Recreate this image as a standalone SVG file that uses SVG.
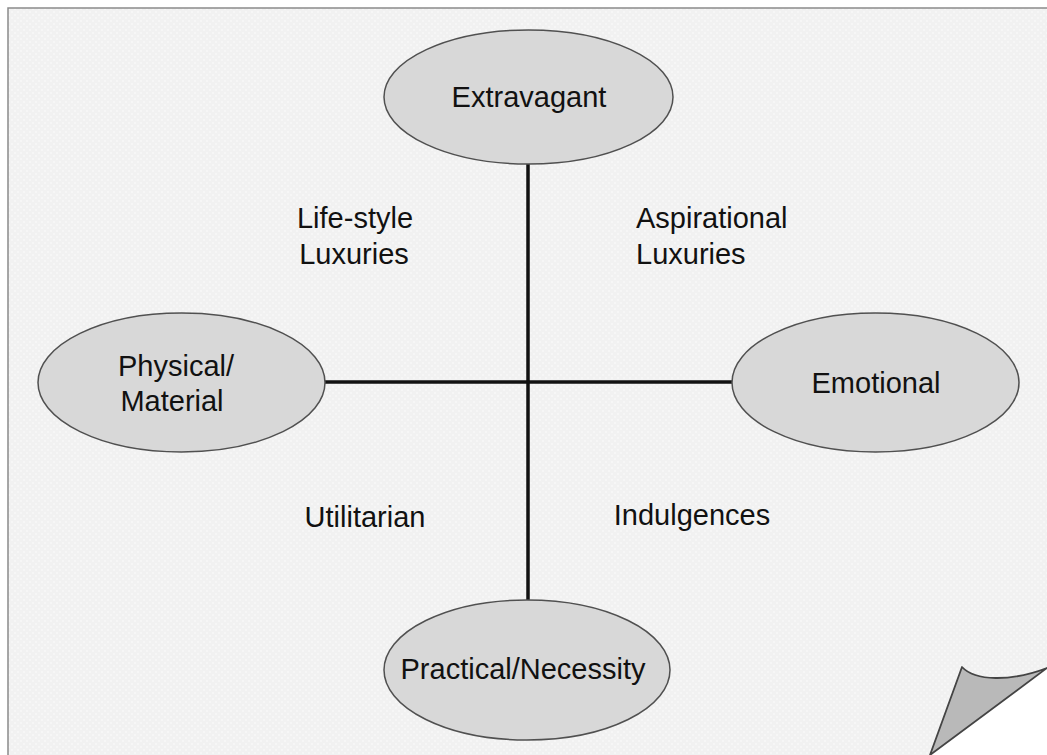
<svg xmlns="http://www.w3.org/2000/svg" width="1047" height="755" viewBox="0 0 1047 755">
  <defs>
    <pattern id="paperTexture" width="6" height="6" patternUnits="userSpaceOnUse">
      <rect width="6" height="6" fill="#f1f1f1"/>
      <circle cx="3" cy="3" r="1.2" fill="#f7f7f7"/>
      <circle cx="0" cy="0" r="1.2" fill="#f7f7f7"/>
      <circle cx="6" cy="6" r="1.2" fill="#f7f7f7"/>
      <circle cx="0" cy="6" r="1.2" fill="#f7f7f7"/>
      <circle cx="6" cy="0" r="1.2" fill="#f7f7f7"/>
    </pattern>
    <style>
      .node { fill: #d8d8d8; stroke: #505050; stroke-width: 1.5; }
      .label { font-family: "Liberation Sans", Arial, sans-serif; font-size: 29px; fill: #111; }
      .axis { stroke: #111; stroke-width: 3.5; fill: none; }
    </style>
  </defs>

  <!-- background and page sheet with a curled corner -->
  <rect width="1047" height="755" fill="#ffffff"/>
  <path d="M8,8 H1047 V668 L930,755 H8 Z" fill="url(#paperTexture)"/>
  <path d="M8,755 V8 H1047" fill="none" stroke="#8a8a8a" stroke-width="1.5"/>
  <path d="M930,755 L962,667 C975,681 1010,682 1047,668 Z" fill="#b9b9b9" stroke="#444" stroke-width="1.8" stroke-linejoin="round"/>

  <!-- axes -->
  <g id="connectors">
    <line class="axis" x1="528" y1="163" x2="528" y2="600"/>
    <line class="axis" x1="325" y1="382" x2="732" y2="382"/>
  </g>

  <g id="node-extravagant">
    <ellipse class="node" cx="528.5" cy="97" rx="144.5" ry="67"/>
    <text class="label" x="529" y="107" text-anchor="middle">Extravagant</text>
  </g>

  <g id="node-physical">
    <ellipse class="node" cx="181.5" cy="382.5" rx="143.5" ry="69.5"/>
    <text class="label" x="176" y="376" text-anchor="middle">Physical/</text>
    <text class="label" x="172" y="411" text-anchor="middle">Material</text>
  </g>

  <g id="node-emotional">
    <ellipse class="node" cx="875.5" cy="382.5" rx="143.5" ry="69.5"/>
    <text class="label" x="876" y="393" text-anchor="middle">Emotional</text>
  </g>

  <g id="node-practical">
    <ellipse class="node" cx="527" cy="670" rx="143" ry="70"/>
    <text class="label" x="523" y="679" text-anchor="middle">Practical/Necessity</text>
  </g>

  <!-- quadrant labels -->
  <g id="quadrant-labels">
    <text class="label" x="355" y="228" text-anchor="middle">Life-style</text>
    <text class="label" x="354" y="264" text-anchor="middle">Luxuries</text>
    <text class="label" x="636" y="228">Aspirational</text>
    <text class="label" x="636" y="264">Luxuries</text>
    <text class="label" x="365" y="527" text-anchor="middle">Utilitarian</text>
    <text class="label" x="692" y="525" text-anchor="middle">Indulgences</text>
  </g>
</svg>
